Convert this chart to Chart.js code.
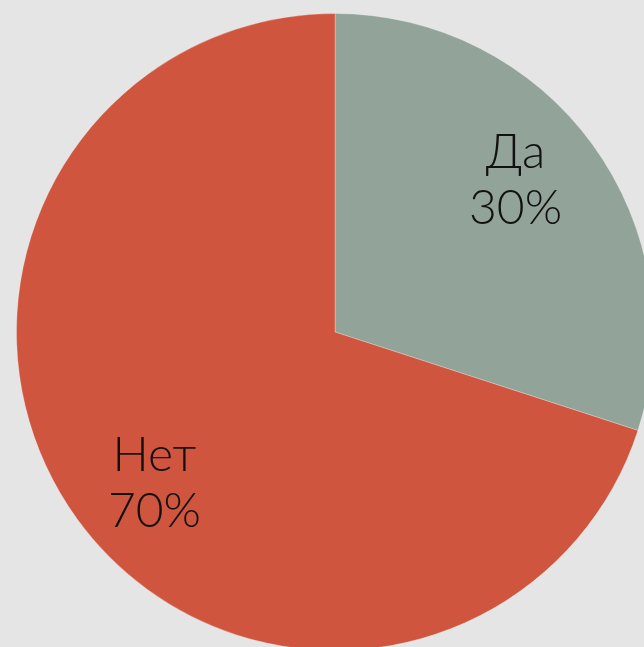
<!DOCTYPE html>
<html>
<head>
<meta charset="utf-8">
<script src="https://cdn.jsdelivr.net/npm/chart.js"></script>
<style>
  html, body { margin: 0; padding: 0; width: 644px; height: 647px; overflow: hidden; background: #e5e5e5; }
  #wrap { position: absolute; left: 16px; top: 13px; width: 638px; height: 638px; }
</style>
</head>
<body>
<div id="wrap"><canvas id="c"></canvas></div>
<script>
const categories = ['Да', 'Нет'];
const values = [30, 70];
const colors = ['#92a499', '#cf553f'];

const labelPlugin = {
  id: 'sliceLabels',
  afterDatasetsDraw(chart) {
    const ctx = chart.ctx;
    const meta = chart.getDatasetMeta(0);
    const total = values.reduce((a, b) => a + b, 0);
    ctx.save();
    ctx.fillStyle = '#111';
    ctx.textAlign = 'center';
    ctx.textBaseline = 'middle';
    ctx.font = '300 48px Lato, "Open Sans", sans-serif';
    meta.data.forEach((arc, i) => {
      const p = arc.getProps(['x', 'y', 'startAngle', 'endAngle', 'outerRadius']);
      const mid = (p.startAngle + p.endAngle) / 2 - 0.07;
      const r = p.outerRadius * 0.74;
      const cx = p.x + Math.cos(mid) * r;
      const cy = p.y + Math.sin(mid) * r;
      const pct = Math.round(values[i] / total * 100) + '%';
      ctx.fillText(categories[i], cx, cy - 28);
      ctx.fillText(pct, cx, cy + 28);
    });
    ctx.restore();
  }
};

new Chart(document.getElementById('c'), {
  type: 'pie',
  data: {
    labels: categories,
    datasets: [{
      data: values,
      backgroundColor: colors,
      borderColor: 'rgba(255,255,255,0.25)',
      borderWidth: 1
    }]
  },
  options: {
    responsive: true,
    maintainAspectRatio: false,
    animation: false,
    layout: { padding: 0 },
    plugins: { legend: { display: false }, tooltip: { enabled: false } }
  },
  plugins: [labelPlugin]
});
</script>
</body>
</html>
